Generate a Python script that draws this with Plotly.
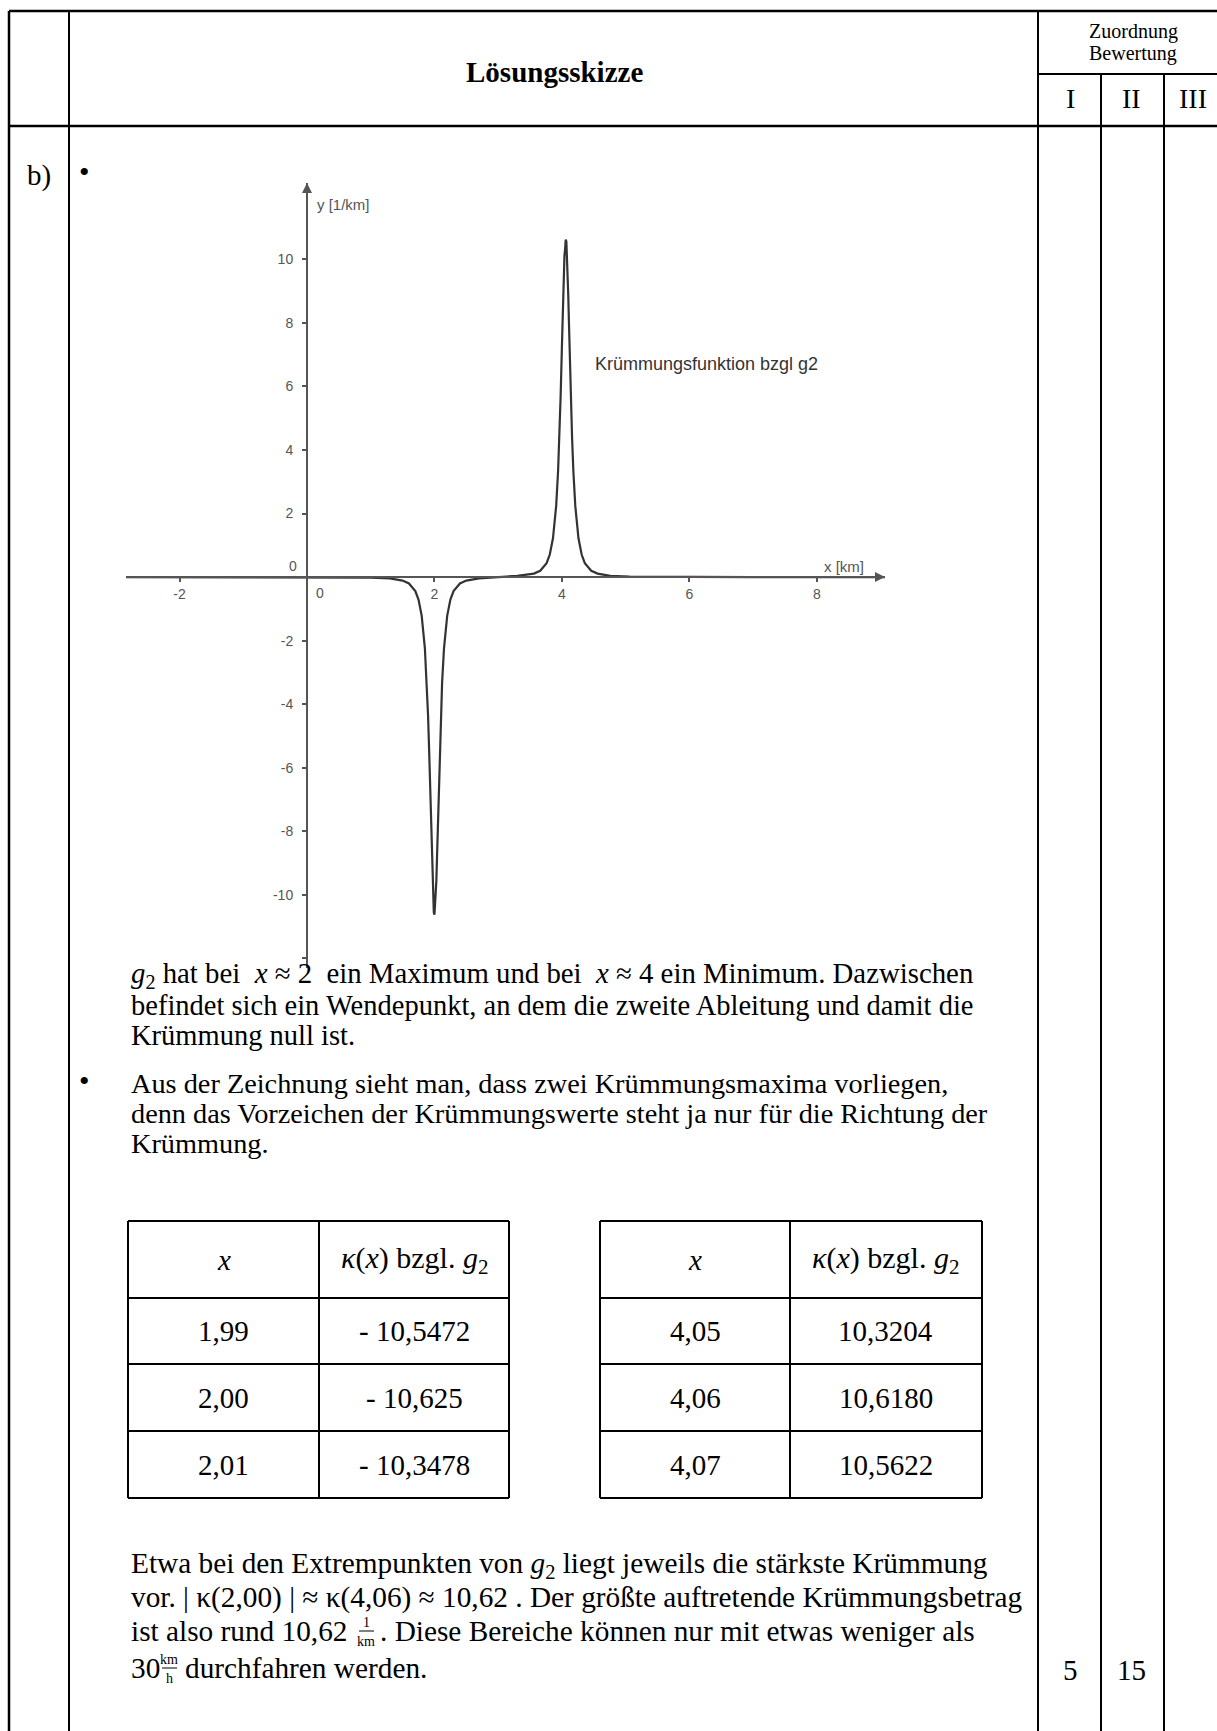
import plotly.graph_objects as go

# ---------------- data ----------------
x_km = [-2.84, -1.0, 0.0, 0.5, 1.0, 1.3, 1.5, 1.6, 1.7, 1.75, 1.8, 1.85, 1.88, 1.9, 1.92,
        1.94, 1.95, 1.96, 1.97, 1.98, 1.99, 2.0, 2.01, 2.02, 2.03, 2.04, 2.05, 2.06, 2.08,
        2.1, 2.12, 2.15, 2.2, 2.25, 2.3, 2.4, 2.5, 2.7, 3.0, 3.3, 3.56, 3.66, 3.76, 3.81,
        3.86, 3.91, 3.94, 3.96, 3.98, 4.0, 4.01, 4.02, 4.03, 4.04, 4.05, 4.06, 4.07, 4.08,
        4.09, 4.1, 4.11, 4.12, 4.14, 4.16, 4.18, 4.21, 4.26, 4.31, 4.36, 4.46, 4.56, 4.76,
        5.06, 6.0, 7.0, 9.07]
kappa = [0.0, -0.001, -0.002, -0.005, -0.015, -0.04, -0.11, -0.2, -0.44, -0.71, -1.22,
         -2.24, -3.33, -4.36, -5.68, -7.23, -8.05, -8.85, -9.56, -10.12, -10.5472, -10.625,
         -10.3478, -10.12, -9.56, -8.85, -8.05, -7.23, -5.68, -4.36, -3.33, -2.24, -1.22,
         -0.71, -0.44, -0.2, -0.11, -0.04, 0.0, 0.04, 0.11, 0.2, 0.44, 0.71, 1.22, 2.24,
         3.33, 4.36, 5.68, 7.23, 8.05, 8.85, 9.56, 10.12, 10.3204, 10.618, 10.5622, 10.12,
         9.56, 8.85, 8.05, 7.23, 5.68, 4.36, 3.33, 2.24, 1.22, 0.71, 0.44, 0.2, 0.11, 0.04,
         0.015, 0.003, 0.001, 0.0]

x_tickvals = [-2, 2, 4, 6, 8]
x_ticktext = ["-2", "2", "4", "6", "8"]
y_tickvals = [-12, -10, -8, -6, -4, -2, 2, 4, 6, 8, 10]
y_ticktext = ["", "-10", "-8", "-6", "-4", "-2", "2", "4", "6", "8", "10"]

table1_x = ["1,99", "2,00", "2,01"]
table1_k = ["- 10,5472", "- 10,625", "- 10,3478"]
table2_x = ["4,05", "4,06", "4,07"]
table2_k = ["10,3204", "10,6180", "10,5622"]

points = ["5", "15"]

# ---------------- helpers ----------------
W, H = 1217, 1731
SERIF = "Liberation Serif"
SANS = "Liberation Sans"
BODY = 29
PARA = 28.3
LAST = 29.3


def px(x):
    return x / W


def py(y):
    return 1 - y / H


shapes = []
annotations = []


def hline(x0, x1, y, w=2, color="black"):
    shapes.append(dict(type="line", xref="paper", yref="paper", x0=px(x0), x1=px(x1),
                       y0=py(y), y1=py(y), line=dict(color=color, width=w)))


def vline(x, y0, y1, w=2, color="black"):
    shapes.append(dict(type="line", xref="paper", yref="paper", x0=px(x), x1=px(x),
                       y0=py(y0), y1=py(y1), line=dict(color=color, width=w)))


def text(x, y, s, size=BODY, anchor="left", family=SERIF, color="black"):
    annotations.append(dict(x=px(x), y=py(y), xref="paper", yref="paper", text=s,
                            showarrow=False, xanchor=anchor, yanchor="middle",
                            font=dict(family=family, size=size, color=color)))


# ---------------- page frame ----------------
hline(9, W, 11, 2.5)
hline(9, W, 126, 2.5)
hline(1038, W, 74, 2)
vline(9, 11, H, 2.5)
vline(69, 11, H, 2)
vline(1038, 11, H, 2)
vline(1101, 74, H, 2)
vline(1164, 74, H, 2)

text(554, 72, "<b>Lösungsskizze</b>", 29, "center")
text(1133, 31, "Zuordnung", 20, "center")
text(1133, 54, "Bewertung", 20, "center")
text(1070, 99, "I", 28, "center")
text(1131, 99, "II", 28, "center")
text(1193, 99, "III", 28, "center")

text(39, 175, "b)", BODY, "center")
text(84, 171, "•", 30, "center")

# ---------------- chart ----------------
AX = "#555555"
fig = go.Figure()
fig.add_trace(go.Scatter(x=x_km, y=kappa, mode="lines",
                         line=dict(color="#333333", width=2.2), showlegend=False,
                         hoverinfo="skip"))

text(293, 566, "0", 14, "center", SANS, AX)
text(320, 593, "0", 14, "center", SANS, AX)
text(315, 205, "y [1/km]", 15, "left", SANS, AX)
text(822, 566, "x [km]", 15, "left", SANS, AX)
text(593, 364, "Krümmungsfunktion bzgl g2", 18, "left", SANS, "#333333")

annotations.append(dict(x=0, y=12.4, xref="x", yref="y", ax=0, ay=16, text="",
                        showarrow=True, arrowhead=2, arrowsize=1, arrowwidth=2,
                        arrowcolor=AX))
annotations.append(dict(x=9.07, y=0, xref="x", yref="y", ax=-16, ay=0, text="",
                        showarrow=True, arrowhead=2, arrowsize=1, arrowwidth=2,
                        arrowcolor=AX))

# ---------------- paragraphs ----------------
L = 129
NB = "\u00a0"
text(84, 1080, "•", 30, "center")
text(L, 975, "<i>g</i><sub>2</sub> hat bei " + NB + "<i>x</i> ≈ 2 " + NB + "ein Maximum und bei "
     + NB + "<i>x</i> ≈ 4 ein Minimum. Dazwischen", 28.8)
text(L, 1005, "befindet sich ein Wendepunkt, an dem die zweite Ableitung und damit die", 28.5)
text(L, 1035, "Krümmung null ist.", 28.5)
text(L, 1083, "Aus der Zeichnung sieht man, dass zwei Krümmungsmaxima vorliegen,", PARA)
text(L, 1113, "denn das Vorzeichen der Krümmungswerte steht ja nur für die Richtung der", PARA)
text(L, 1143, "Krümmung.", PARA)

# ---------------- tables ----------------
row_y = [1221, 1298, 1364, 1431, 1498]
for (x0, xm, x1, xs, ks) in [(128, 319, 509, table1_x, table1_k),
                             (600, 790, 982, table2_x, table2_k)]:
    for yy in row_y:
        hline(x0, x1, yy, 2)
    for xx in (x0, xm, x1):
        vline(xx, row_y[0], row_y[-1], 2)
    c1 = (x0 + xm) / 2
    c2 = (xm + x1) / 2
    text(c1, (row_y[0] + row_y[1]) / 2, "<i>x</i>", BODY, "center")
    text(c2, (row_y[0] + row_y[1]) / 2,
         "<i>κ</i>(<i>x</i>) bzgl. <i>g</i><sub>2</sub>", 30, "center")
    for i in range(3):
        yc = (row_y[i + 1] + row_y[i + 2]) / 2
        text(c1, yc, xs[i], BODY, "center")
        text(c2, yc, ks[i], BODY, "center")

# ---------------- final paragraph ----------------
text(L, 1565, "Etwa bei den Extrempunkten von <i>g</i><sub>2</sub> liegt jeweils die stärkste Krümmung", LAST)
text(L, 1597, "vor. | κ(2,00) | ≈ κ(4,06) ≈ 10,62 . Der größte auftretende Krümmungsbetrag", LAST)
text(L, 1631, "ist also rund 10,62", LAST)
text(366, 1622, "1", 14, "center")
hline(359, 374, 1631, 1)
text(366, 1641, "km", 14, "center")
text(378, 1631, ". Diese Bereiche können nur mit etwas weniger als", LAST)
text(162, 1668, "30", LAST, "right")
text(169, 1659, "km", 14, "center")
hline(162, 177, 1668, 1)
text(169, 1678, "h", 14, "center")
text(183, 1668, "durchfahren werden.", LAST)

text(1070, 1670, points[0], BODY, "center")
text(1131, 1670, points[1], BODY, "center")

fig.update_layout(
    width=W, height=H,
    margin=dict(l=0, r=0, t=0, b=0),
    paper_bgcolor="white", plot_bgcolor="rgba(0,0,0,0)",
    shapes=shapes, annotations=annotations,
    xaxis=dict(domain=[px(126), px(885)], range=[-2.84, 9.07], anchor="free",
               position=py(577), showline=True, linecolor=AX, linewidth=2,
               ticks="outside", ticklen=4, tickwidth=1.5, tickcolor=AX,
               tickvals=x_tickvals, ticktext=x_ticktext, showgrid=False, zeroline=False,
               tickfont=dict(family=SANS, size=14, color=AX), fixedrange=True),
    yaxis=dict(domain=[py(968), py(183)], range=[-12.3, 12.4], anchor="free",
               position=px(307), showline=True, linecolor=AX, linewidth=2,
               ticks="outside", ticklen=4, tickwidth=1.5, tickcolor=AX,
               tickvals=y_tickvals, ticktext=y_ticktext, showgrid=False, zeroline=False,
               ticklabelstandoff=6,
               tickfont=dict(family=SANS, size=14, color=AX), fixedrange=True),
)

fig.write_html("out.html", config={"displayModeBar": False},
               post_script="document.body.style.margin='0px';")
